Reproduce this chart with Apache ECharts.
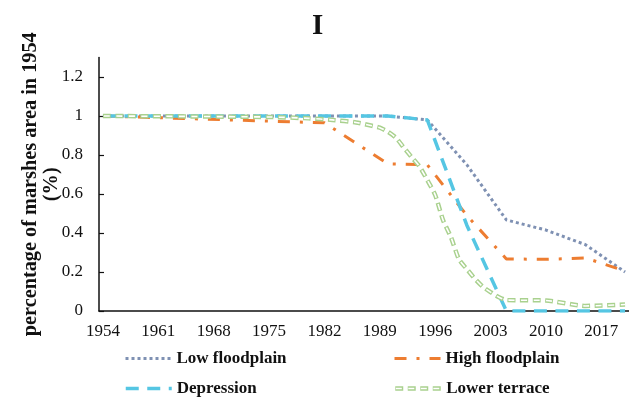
<!DOCTYPE html>
<html>
<head>
<meta charset="utf-8">
<script src="https://cdn.jsdelivr.net/npm/echarts@6/dist/echarts.min.js"></script>
<style>
html,body{margin:0;padding:0;background:#fff;}
#chart{width:629px;height:401px;}
</style>
</head>
<body>
<div id="chart"></div>
<script>
// ---- data ----
var firstYear = 1954, lastYear = 2020;
var yTickLabels = ['0', '0.2', '0.4', '0.6', '0.8', '1', '1.2'];

var lowYears  = [1954, 1990, 1995, 2000, 2005, 2010, 2015, 2020];
var lowVals   = [1.0, 1.0, 0.98, 0.75, 0.467, 0.415, 0.34, 0.2];

var highYears = [1954, 1982, 1990, 1995, 2000, 2005, 2010, 2015, 2020];
var highVals  = [1.0, 0.965, 0.755, 0.75, 0.49, 0.267, 0.265, 0.272, 0.205];

var depYears  = [1954, 1990, 1995, 2000, 2005, 2010, 2015, 2020];
var depVals   = [1.0, 1.0, 0.98, 0.44, 0, 0, 0, 0];

var terYears  = [1954, 1975, 1980, 1983, 1986, 1988, 1989, 1990, 1991, 1992, 1993, 1994, 1995, 1996, 1997, 1998, 1999, 2000, 2001, 2002, 2003, 2004, 2005, 2010, 2015, 2020];
var terVals   = [1.0, 0.995, 0.988, 0.98, 0.967, 0.95, 0.94, 0.92, 0.89, 0.84, 0.79, 0.742, 0.672, 0.595, 0.465, 0.378, 0.265, 0.215, 0.166, 0.125, 0.097, 0.072, 0.056, 0.054, 0.026, 0.033];

var seriesNames = ['Low floodplain', 'High floodplain', 'Depression', 'Lower terrace'];
var innerName = ' ';

// ---- build ----
var categories = [];
for (var y = firstYear; y <= lastYear; y++) categories.push(String(y));
function pairs(ys, vs) { return ys.map(function (yr, i) { return [String(yr), vs[i]]; }); }

var FONT = '"Liberation Serif", "Times New Roman", serif';
var C_LOW = '#7f91b3', C_HIGH = '#ED7D31', C_DEP = '#55c6e3', C_TER = '#a9d18e';
var TER_DASH = [8, 4.5], TER_INNER_DASH = [0, 1, 6, 5.5];

function legendAt(name, left, top, lineStyle, extra) {
  var l = {
    data: [name], left: left, top: top, padding: 0,
    itemWidth: 46, itemHeight: 12, itemGap: 5,
    itemStyle: { opacity: 0 },
    lineStyle: lineStyle,
    selectedMode: false,
    textStyle: { fontFamily: FONT, fontWeight: 'bold', fontSize: 17, color: '#111', padding: [0, 0, 0, 0] }
  };
  if (extra) for (var k in extra) l[k] = extra[k];
  return l;
}

var chart = echarts.init(document.getElementById('chart'), null, { renderer: 'canvas' });
chart.setOption({
  animation: false,
  backgroundColor: '#fff',
  title: {
    text: 'I', left: 307, top: 7,
    textStyle: { fontFamily: FONT, fontWeight: 'bold', fontSize: 29, color: '#111' }
  },
  grid: { left: 99, right: 0, top: 57.5, bottom: 90, containLabel: false },
  legend: [
    legendAt(seriesNames[0], 124, 350, { width: 3 }),
    legendAt(seriesNames[1], 393, 350, { width: 3 }),
    legendAt(seriesNames[2], 124, 380, { width: 3.5 }),
    legendAt(seriesNames[3], 393, 380, { width: 4.5 }),
    legendAt(innerName, 394, 380, { width: 1.6 },
      { z: 20, itemWidth: 45, formatter: function () { return ' '; } })
  ],
  xAxis: {
    type: 'category', data: categories, boundaryGap: true,
    axisLine: { lineStyle: { color: '#111', width: 1.5 } },
    axisTick: { inside: true, length: 5, interval: 6, lineStyle: { color: '#111', width: 1.2 } },
    axisLabel: { interval: 6, fontFamily: FONT, fontSize: 17, color: '#111', margin: 12 },
    splitLine: { show: false }
  },
  yAxis: {
    type: 'value', min: 0, max: 1.3, interval: 0.2,
    name: 'percentage of marshes area in 1954\n(%)',
    nameLocation: 'middle', nameRotate: 90, nameGap: 37, nameMoveOverlap: false,
    nameTextStyle: { fontFamily: FONT, fontWeight: 'bold', fontSize: 20.3, color: '#111', lineHeight: 21 },
    axisLine: { show: true, lineStyle: { color: '#111', width: 1.5 } },
    axisTick: { show: true, inside: true, length: 5, lineStyle: { color: '#111', width: 1.2 } },
    axisLabel: {
      fontFamily: FONT, fontSize: 17, color: '#111', margin: 16, showMaxLabel: false,
      formatter: function (v) {
        var idx = Math.round(v / 0.2);
        return Math.abs(idx * 0.2 - v) < 1e-6 && yTickLabels[idx] !== undefined ? yTickLabels[idx] : '';
      }
    },
    splitLine: { show: false }
  },
  series: [
    { name: seriesNames[0], type: 'line', symbol: 'none', data: pairs(lowYears, lowVals),
      lineStyle: { color: C_LOW, width: 3, type: [3, 3] }, itemStyle: { color: C_LOW } },
    { name: seriesNames[1], type: 'line', symbol: 'none', data: pairs(highYears, highVals),
      lineStyle: { color: C_HIGH, width: 3, type: [12, 10, 3, 10] }, itemStyle: { color: C_HIGH } },
    { name: seriesNames[2], type: 'line', symbol: 'none', data: pairs(depYears, depVals),
      lineStyle: { color: C_DEP, width: 3.5, type: [13, 8.5] }, itemStyle: { color: C_DEP } },
    { name: seriesNames[3], type: 'line', symbol: 'none', data: pairs(terYears, terVals), smooth: 0.2,
      lineStyle: { color: C_TER, width: 4.5, type: TER_DASH }, itemStyle: { color: C_TER } },
    { name: innerName, type: 'line', symbol: 'none', data: pairs(terYears, terVals), smooth: 0.2,
      silent: true, lineStyle: { color: '#ffffff', width: 1.6, type: TER_INNER_DASH }, itemStyle: { color: '#fff' } }
  ]
});
</script>
</body>
</html>
